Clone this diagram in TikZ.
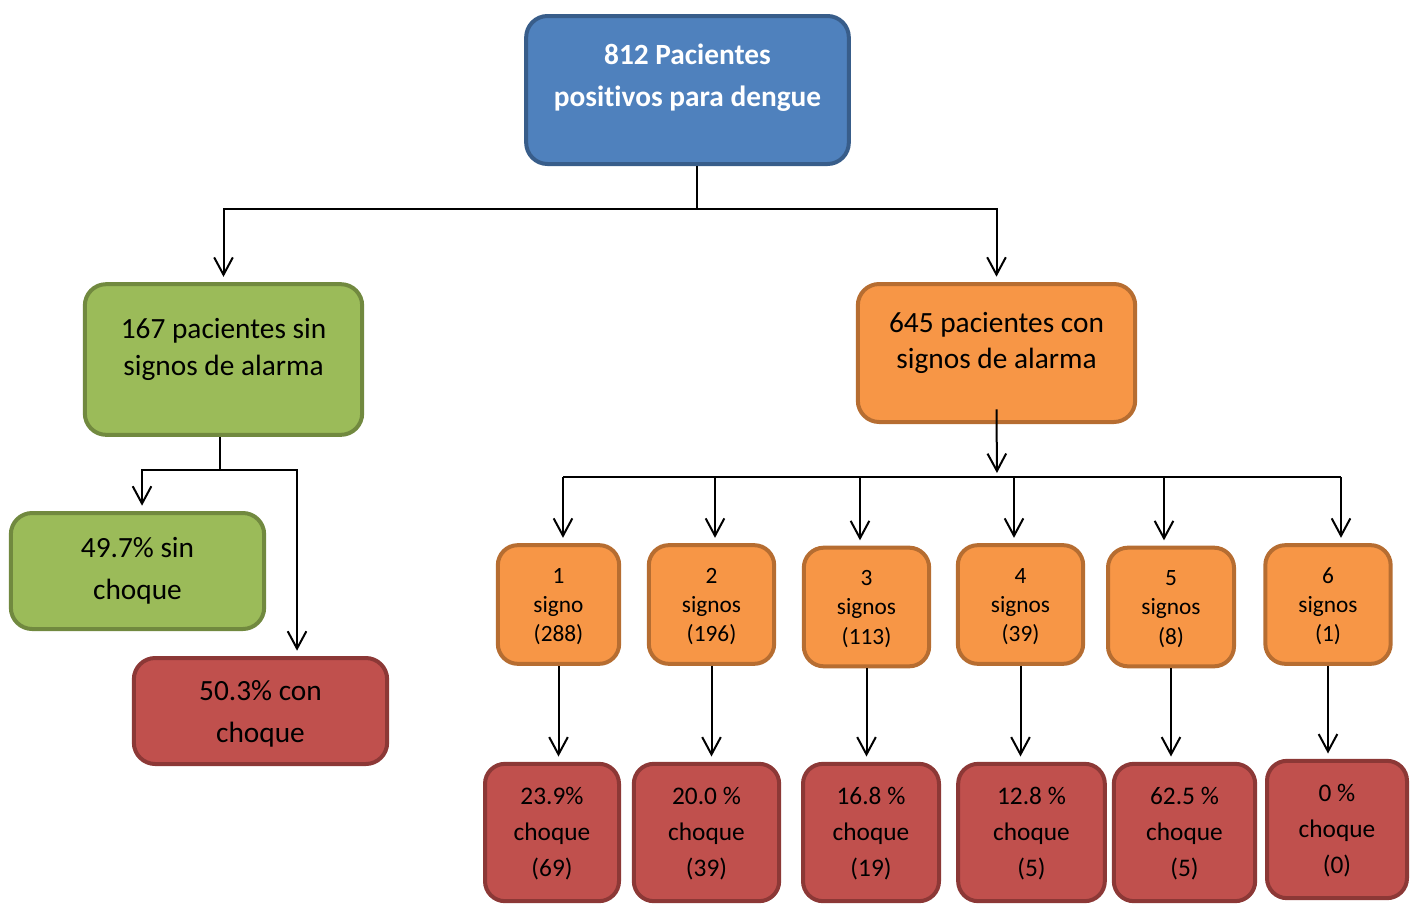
\documentclass[tikz,border=0pt]{standalone}
\usepackage{fontspec}
\setmainfont{Carlito}[Ligatures={NoCommon}]
\usepackage{tikz}
\usepackage{xcolor}
\usetikzlibrary{arrows.meta}

\definecolor{blueFill}{HTML}{4F81BD}
\definecolor{blueEdge}{HTML}{385D8A}
\definecolor{greenFill}{HTML}{9BBB59}
\definecolor{greenEdge}{HTML}{71893F}
\definecolor{orangeFill}{HTML}{F79646}
\definecolor{orangeEdge}{HTML}{B66D31}
\definecolor{redFill}{HTML}{C0504D}
\definecolor{redEdge}{HTML}{8C3836}

% text lines of a box, lifted by #1 from the box centre
\newcommand{\lifted}[2]{\raisebox{#1}[0pt][0pt]{\begin{tabular}{@{}c@{}}#2\end{tabular}}}

\begin{document}
\begin{tikzpicture}[x=0.75pt,y=-0.75pt]
  \tikzset{box/.style={draw,line width=3pt,rounded corners=16pt,inner sep=0pt}}
  \tikzset{bluebox/.style={box,draw=blueEdge,fill=blueFill,text=white,font=\fontsize{22}{31.5}\selectfont\bfseries}}
  \tikzset{greenbox/.style={box,draw=greenEdge,fill=greenFill,minimum width=190pt}}
  \tikzset{orangebox/.style={box,draw=orangeEdge,fill=orangeFill}}
  \tikzset{redbox/.style={box,draw=redEdge,fill=redFill}}
  \tikzset{signbox/.style={orangebox,rounded corners=15pt,minimum width=94pt,minimum height=89pt,font=\fontsize{17.5}{22}\selectfont}}
  \tikzset{shockbox/.style={redbox,rounded corners=15pt,minimum height=103pt,font=\fontsize{19}{27}\selectfont}}
  \tikzset{line/.style={line width=1.5pt}}
  \tikzset{transition/.style={line,-{Straight Barb[length=13pt,width=14pt]},shorten >=4pt}}
  \useasboundingbox (0,0) rectangle (1415,904);

  \node[bluebox,minimum width=242pt,minimum height=111pt] (dengue) at (687.5,90)
    {\lifted{4.25pt}{812 Pacientes\\positivos para dengue}};
  \node[greenbox,minimum width=208pt,minimum height=113pt,font=\fontsize{22}{27.75}\selectfont] (sinAlarma) at (223.5,359.5)
    {\lifted{2pt}{167 pacientes sin\\signos de alarma}};
  \node[orangebox,minimum width=208pt,minimum height=103.5pt,font=\fontsize{22}{27}\selectfont] (conAlarma) at (996.5,353)
    {\lifted{2pt}{645 pacientes con\\signos de alarma}};
  \node[greenbox,minimum height=87pt,font=\fontsize{22}{31.5}\selectfont] (sinChoque) at (137.5,571)
    {\lifted{-4.5pt}{49.7\% sin\\choque}};
  \node[redbox,minimum width=190pt,minimum height=79.5pt,font=\fontsize{22}{31.5}\selectfont] (conChoque) at (260.5,711)
    {\lifted{-6.75pt}{50.3\% con\\choque}};

  \node[signbox,minimum width=91pt] (sig1) at (558.5,604.5) {\lifted{-5.9pt}{1\\signo\\(288)}};
  \node[signbox] (sig2) at (711.5,604.5) {\lifted{-5.9pt}{2\\signos\\(196)}};
  \node[signbox] (sig3) at (866.5,607) {\lifted{-5.9pt}{3\\signos\\(113)}};
  \node[signbox] (sig4) at (1020.5,604.5) {\lifted{-5.9pt}{4\\signos\\(39)}};
  \node[signbox,minimum width=94.5pt] (sig5) at (1171,607) {\lifted{-5.9pt}{5\\signos\\(8)}};
  \node[signbox] (sig6) at (1328,604.5) {\lifted{-5.9pt}{6\\signos\\(1)}};

  \node[shockbox,minimum width=100.5pt] (shock1) at (552,832.5) {\lifted{-5pt}{23.9\%\\choque\\(69)}};
  \node[shockbox,minimum width=109pt] (shock2) at (706.5,832.5) {\lifted{-5pt}{20.0 \%\\choque\\(39)}};
  \node[shockbox,minimum width=102pt] (shock3) at (871,832.5) {\lifted{-5pt}{16.8 \%\\choque\\(19)}};
  \node[shockbox,minimum width=110pt] (shock4) at (1031.5,832.5) {\lifted{-5pt}{12.8 \%\\choque\\(5)}};
  \node[shockbox,minimum width=106pt] (shock5) at (1184.5,832.5) {\lifted{-5pt}{62.5 \%\\choque\\(5)}};
  \node[shockbox,minimum width=105pt] (shock6) at (1337,829.5) {\lifted{-5pt}{0 \%\\choque\\(0)}};

  % forks
  \coordinate (dengueFork) at (697,209);
  \coordinate (sinFork) at (220,470);
  \coordinate (sigBus) at (997,477);
  \coordinate (drop1) at (563,477);
  \coordinate (drop2) at (715,477);
  \coordinate (drop3) at (860,477);
  \coordinate (drop4) at (1014,477);
  \coordinate (drop5) at (1164,477);
  \coordinate (drop6) at (1341,477);

  \draw[line] (dengueFork |- dengue.south) -- (dengueFork);
  \draw[transition] (dengueFork) -| (sinAlarma.north);
  \draw[transition] (dengueFork) -| (conAlarma.north);

  \draw[line] (sinFork |- sinAlarma.south) -- (sinFork);
  \draw[transition] (sinFork) -| ([xshift=3.4pt]sinChoque.north);
  \draw[transition] (sinFork) -| ([xshift=27.4pt]conChoque.north);

  \draw[transition,shorten >=3pt] ([yshift=11pt]conAlarma.south) -- (sigBus);
  \draw[line] (drop1) -- (drop6);
  \draw[transition] (drop1) -- (drop1 |- sig1.north);
  \draw[transition] (drop2) -- (drop2 |- sig2.north);
  \draw[transition] (drop3) -- (drop3 |- sig3.north);
  \draw[transition] (drop4) -- (drop4 |- sig4.north);
  \draw[transition] (drop5) -- (drop5 |- sig5.north);
  \draw[transition] (drop6) -- (drop6 |- sig6.north);

  \draw[transition] (sig1.south) -- (sig1.south |- shock1.north);
  \draw[transition] (sig2.south) -- (sig2.south |- shock2.north);
  \draw[transition] (sig3.south) -- (sig3.south |- shock3.north);
  \draw[transition] (sig4.south) -- (sig4.south |- shock4.north);
  \draw[transition] (sig5.south) -- (sig5.south |- shock5.north);
  \draw[transition] (sig6.south) -- (sig6.south |- shock6.north);
\end{tikzpicture}
\end{document}
